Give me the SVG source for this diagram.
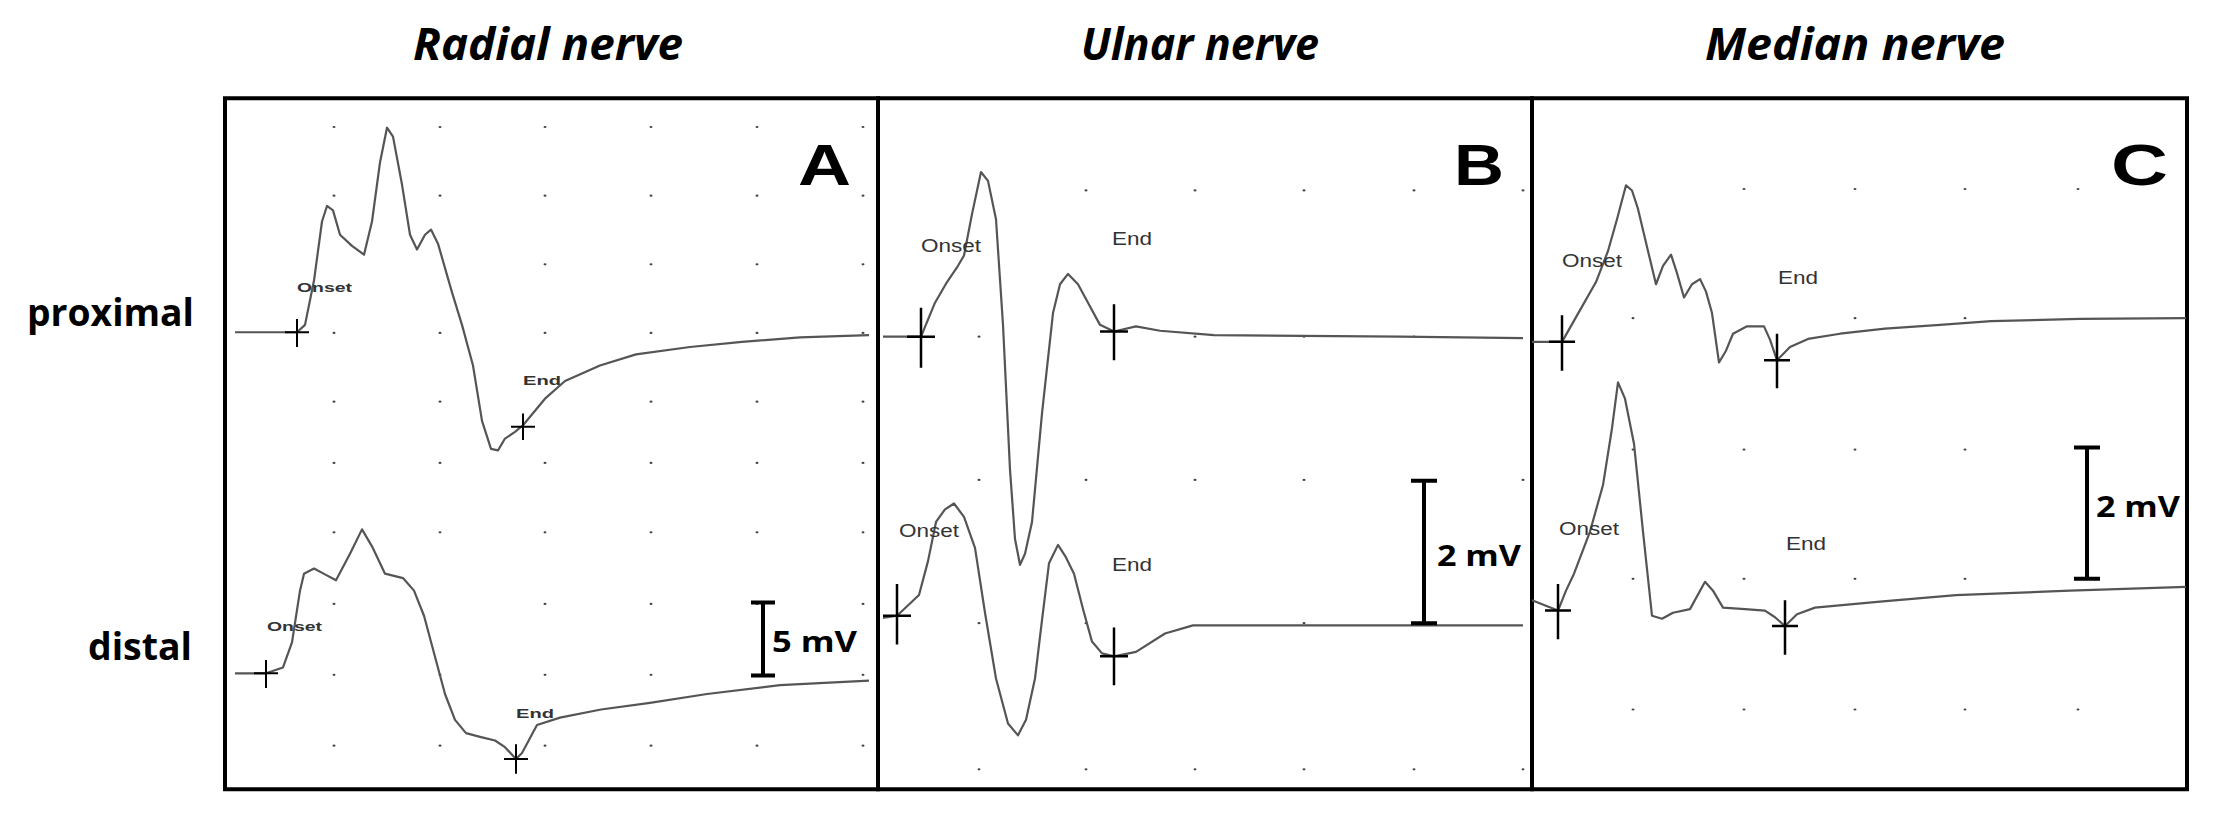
<svg xmlns="http://www.w3.org/2000/svg" width="2216" height="818" viewBox="0 0 2216 818">
<style>
.title{font-family:"Open Sans","Liberation Sans",sans-serif;font-style:italic;font-weight:bold;font-size:44px;fill:#000}
.row{font-family:"Open Sans","Liberation Sans",sans-serif;font-weight:bold;font-size:38px;fill:#000}
.big{font-family:"Liberation Sans",sans-serif;font-weight:bold;font-size:58px;fill:#000}
.frame{fill:none;stroke:#000;stroke-width:4;vector-effect:non-scaling-stroke}
.tr{fill:none;stroke:#555;stroke-width:2.2;stroke-linejoin:round;vector-effect:non-scaling-stroke}
.x{stroke:#000;stroke-width:2.5;vector-effect:non-scaling-stroke}
.xs{stroke:#000;stroke-width:2;vector-effect:non-scaling-stroke}
.lab{font-family:"Liberation Sans",sans-serif;font-weight:bold;font-size:13px;fill:#333}
.labb{font-family:"Liberation Sans",sans-serif;font-size:18px;fill:#333}
.bar{stroke:#000;stroke-width:4;fill:none;vector-effect:non-scaling-stroke}
.mv{font-family:"Open Sans","Liberation Sans",sans-serif;font-weight:bold;font-size:29px;fill:#000}
.dot{fill:#444}
</style>
<rect width="2216" height="818" fill="#fff"/>
<g id="titles">
<text class="title" x="548" y="60" text-anchor="middle" textLength="270" lengthAdjust="spacingAndGlyphs">Radial nerve</text>
<text class="title" x="1200" y="60" text-anchor="middle" textLength="238" lengthAdjust="spacingAndGlyphs">Ulnar nerve</text>
<text class="title" x="1855" y="60" text-anchor="middle" textLength="300" lengthAdjust="spacingAndGlyphs">Median nerve</text>
<text class="row" x="27" y="326" textLength="167" lengthAdjust="spacingAndGlyphs">proximal</text>
<text class="row" x="88" y="660" textLength="104" lengthAdjust="spacingAndGlyphs">distal</text>
</g>
<g id="graphics" transform="scale(1,0.7383)">
<g class="dot">
<circle cx="334" cy="172" r="1.5"/><circle cx="440" cy="172" r="1.5"/><circle cx="545" cy="172" r="1.5"/><circle cx="651" cy="172" r="1.5"/><circle cx="757" cy="172" r="1.5"/><circle cx="863" cy="172" r="1.5"/>
<circle cx="334" cy="265" r="1.5"/><circle cx="440" cy="265" r="1.5"/><circle cx="545" cy="265" r="1.5"/><circle cx="651" cy="265" r="1.5"/><circle cx="757" cy="265" r="1.5"/><circle cx="863" cy="265" r="1.5"/>
<circle cx="545" cy="358" r="1.5"/><circle cx="651" cy="358" r="1.5"/><circle cx="757" cy="358" r="1.5"/><circle cx="863" cy="358" r="1.5"/>
<circle cx="334" cy="451" r="1.5"/><circle cx="440" cy="451" r="1.5"/><circle cx="545" cy="451" r="1.5"/><circle cx="651" cy="451" r="1.5"/><circle cx="757" cy="451" r="1.5"/><circle cx="863" cy="451" r="1.5"/>
<circle cx="334" cy="544" r="1.5"/><circle cx="440" cy="544" r="1.5"/><circle cx="651" cy="544" r="1.5"/><circle cx="757" cy="544" r="1.5"/><circle cx="863" cy="544" r="1.5"/>
<circle cx="334" cy="627" r="1.5"/><circle cx="440" cy="627" r="1.5"/><circle cx="545" cy="627" r="1.5"/><circle cx="651" cy="627" r="1.5"/><circle cx="757" cy="627" r="1.5"/><circle cx="863" cy="627" r="1.5"/>
<circle cx="334" cy="721" r="1.5"/><circle cx="440" cy="721" r="1.5"/><circle cx="545" cy="721" r="1.5"/><circle cx="651" cy="721" r="1.5"/><circle cx="757" cy="721" r="1.5"/><circle cx="863" cy="721" r="1.5"/>
<circle cx="334" cy="818" r="1.5"/><circle cx="545" cy="818" r="1.5"/><circle cx="651" cy="818" r="1.5"/><circle cx="757" cy="818" r="1.5"/><circle cx="863" cy="818" r="1.5"/>
<circle cx="334" cy="914" r="1.5"/><circle cx="440" cy="914" r="1.5"/><circle cx="545" cy="914" r="1.5"/><circle cx="651" cy="914" r="1.5"/><circle cx="863" cy="914" r="1.5"/>
<circle cx="334" cy="1010" r="1.5"/><circle cx="440" cy="1010" r="1.5"/><circle cx="545" cy="1010" r="1.5"/><circle cx="651" cy="1010" r="1.5"/><circle cx="757" cy="1010" r="1.5"/><circle cx="863" cy="1010" r="1.5"/>
<circle cx="1086" cy="258" r="1.5"/><circle cx="1195" cy="258" r="1.5"/><circle cx="1304" cy="258" r="1.5"/><circle cx="1414" cy="258" r="1.5"/><circle cx="1523" cy="258" r="1.5"/>
<circle cx="979" cy="456" r="1.5"/><circle cx="1195" cy="456" r="1.5"/><circle cx="1304" cy="456" r="1.5"/><circle cx="1414" cy="456" r="1.5"/>
<circle cx="979" cy="650" r="1.5"/><circle cx="1086" cy="650" r="1.5"/><circle cx="1195" cy="650" r="1.5"/><circle cx="1304" cy="650" r="1.5"/><circle cx="1523" cy="650" r="1.5"/>
<circle cx="979" cy="844" r="1.5"/><circle cx="1086" cy="844" r="1.5"/><circle cx="1304" cy="844" r="1.5"/>
<circle cx="979" cy="1042" r="1.5"/><circle cx="1086" cy="1042" r="1.5"/><circle cx="1195" cy="1042" r="1.5"/><circle cx="1304" cy="1042" r="1.5"/><circle cx="1414" cy="1042" r="1.5"/><circle cx="1523" cy="1042" r="1.5"/>
<circle cx="1744" cy="256" r="1.5"/><circle cx="1855" cy="256" r="1.5"/><circle cx="1965" cy="256" r="1.5"/><circle cx="2078" cy="256" r="1.5"/>
<circle cx="1633" cy="431" r="1.5"/><circle cx="1855" cy="431" r="1.5"/><circle cx="1965" cy="431" r="1.5"/>
<circle cx="1633" cy="609" r="1.5"/><circle cx="1744" cy="609" r="1.5"/><circle cx="1855" cy="609" r="1.5"/><circle cx="1965" cy="609" r="1.5"/>
<circle cx="1633" cy="784" r="1.5"/><circle cx="1744" cy="784" r="1.5"/><circle cx="1855" cy="784" r="1.5"/><circle cx="1965" cy="784" r="1.5"/>
<circle cx="1633" cy="961" r="1.5"/><circle cx="1744" cy="961" r="1.5"/><circle cx="1855" cy="961" r="1.5"/><circle cx="1965" cy="961" r="1.5"/><circle cx="2078" cy="961" r="1.5"/>
</g>
<g id="panelA-shapes">
<rect class="frame" x="225" y="133" width="653" height="936"/>
<polyline class="tr" points="235,450 297,450 305,440 314,380 322,300 327,279 333,285 340,318 352,333 364,345 372,300 380,220 387,173 393,185 402,250 410,318 417,338 425,318 431,311 438,330 452,396 462,440 473,495 482,570 491,608 498,610 505,594 515,585 523,576 545,540 565,516 600,495 636,480 690,470 742,463 800,457 869,454"/>
<path class="xs" d="M297,432V470M285,450H309"/>
<path class="xs" d="M523,560V596M511,578H535"/>
<polyline class="tr" points="235,912 266,912 283,904 292,870 300,800 304,777 314,770 325,778 336,786 350,750 362,717 372,740 385,777 403,783 414,800 424,834 445,940 455,975 466,993 480,998 495,1003 505,1012 516,1028 522,1020 537,982 560,972 601,961 650,952 707,940 780,928 869,922"/>
<path class="xs" d="M266,894V932M254,912H278"/>
<path class="xs" d="M516,1008V1048M504,1028H528"/>
<path class="bar" d="M763,816V915M751,816H775M751,915H775"/>
</g>
<g id="panelB-shapes">
<rect class="frame" x="878" y="133" width="654" height="936"/>
<polyline class="tr" points="883,456 921,456 935,410 947,382 958,360 964,346 972,290 981,233 988,245 996,297 1003,440 1010,636 1015,730 1020,765 1025,750 1032,707 1042,560 1053,424 1060,385 1068,371 1078,385 1088,410 1100,440 1114,449 1136,442 1160,448 1214,454 1400,456 1523,458"/>
<path class="x" d="M921,417V498M907,456H935"/>
<path class="x" d="M1114,412V488M1100,449H1128"/>
<polyline class="tr" points="883,837 897,834 919,806 928,760 936,707 945,690 954,682 964,700 975,742 985,830 996,919 1008,980 1018,996 1026,975 1035,919 1042,840 1049,763 1058,738 1066,755 1074,777 1083,825 1092,869 1102,885 1114,889 1136,883 1165,858 1193,847 1350,847 1523,847"/>
<path class="x" d="M897,791V873M883,834H911"/>
<path class="x" d="M1114,850V928M1100,889H1128"/>
<path class="bar" d="M1424,651V844M1411,651H1437M1411,844H1437"/>
</g>
<g id="panelC-shapes">
<rect class="frame" x="1532" y="133" width="655" height="936"/>
<polyline class="tr" points="1532,463 1562,463 1580,420 1596,382 1608,340 1617,297 1626,251 1632,258 1638,283 1648,340 1656,385 1663,360 1671,345 1677,370 1684,403 1692,385 1700,378 1706,395 1712,424 1719,491 1726,475 1733,452 1747,442 1764,442 1770,460 1777,488 1790,470 1808,459 1840,452 1885,445 1940,440 1991,435 2080,432 2186,431"/>
<path class="x" d="M1562,427V502M1549,463H1575"/>
<path class="x" d="M1777,452V526M1764,488H1790"/>
<polyline class="tr" points="1532,813 1558,827 1566,800 1574,777 1590,720 1603,657 1612,580 1618,518 1625,540 1634,601 1643,720 1652,834 1662,838 1673,830 1690,825 1705,788 1713,800 1723,823 1745,825 1765,827 1775,836 1785,848 1797,832 1815,823 1880,815 1956,806 2070,800 2186,795"/>
<path class="x" d="M1558,791V866M1545,827H1571"/>
<path class="x" d="M1785,813V887M1772,848H1798"/>
<path class="bar" d="M2087,606V784M2074,606H2100M2074,784H2100"/>
</g>
</g>
<g id="panelA">
<text class="big" x="798" y="185" textLength="53" lengthAdjust="spacingAndGlyphs">A</text>
<text class="lab" x="297" y="292" textLength="55" lengthAdjust="spacingAndGlyphs">Onset</text>
<text class="lab" x="523" y="385" textLength="38" lengthAdjust="spacingAndGlyphs">End</text>
<text class="lab" x="267" y="631" textLength="55" lengthAdjust="spacingAndGlyphs">Onset</text>
<text class="lab" x="516" y="718" textLength="38" lengthAdjust="spacingAndGlyphs">End</text>
<text class="mv" x="772" y="652" textLength="85" lengthAdjust="spacingAndGlyphs">5 mV</text>
</g>
<g id="panelB">
<text class="big" x="1454" y="185" textLength="50" lengthAdjust="spacingAndGlyphs">B</text>
<text class="labb" x="921" y="252" textLength="60" lengthAdjust="spacingAndGlyphs">Onset</text>
<text class="labb" x="1112" y="245" textLength="40" lengthAdjust="spacingAndGlyphs">End</text>
<text class="labb" x="899" y="537" textLength="60" lengthAdjust="spacingAndGlyphs">Onset</text>
<text class="labb" x="1112" y="571" textLength="40" lengthAdjust="spacingAndGlyphs">End</text>
<text class="mv" x="1437" y="566" textLength="84" lengthAdjust="spacingAndGlyphs">2 mV</text>
</g>
<g id="panelC">
<text class="big" x="2111" y="185" textLength="57" lengthAdjust="spacingAndGlyphs">C</text>
<text class="labb" x="1562" y="267" textLength="60" lengthAdjust="spacingAndGlyphs">Onset</text>
<text class="labb" x="1778" y="284" textLength="40" lengthAdjust="spacingAndGlyphs">End</text>
<text class="labb" x="1559" y="535" textLength="60" lengthAdjust="spacingAndGlyphs">Onset</text>
<text class="labb" x="1786" y="550" textLength="40" lengthAdjust="spacingAndGlyphs">End</text>
<text class="mv" x="2096" y="517" textLength="84" lengthAdjust="spacingAndGlyphs">2 mV</text>
</g>
<g id="connectors"/>
</svg>
